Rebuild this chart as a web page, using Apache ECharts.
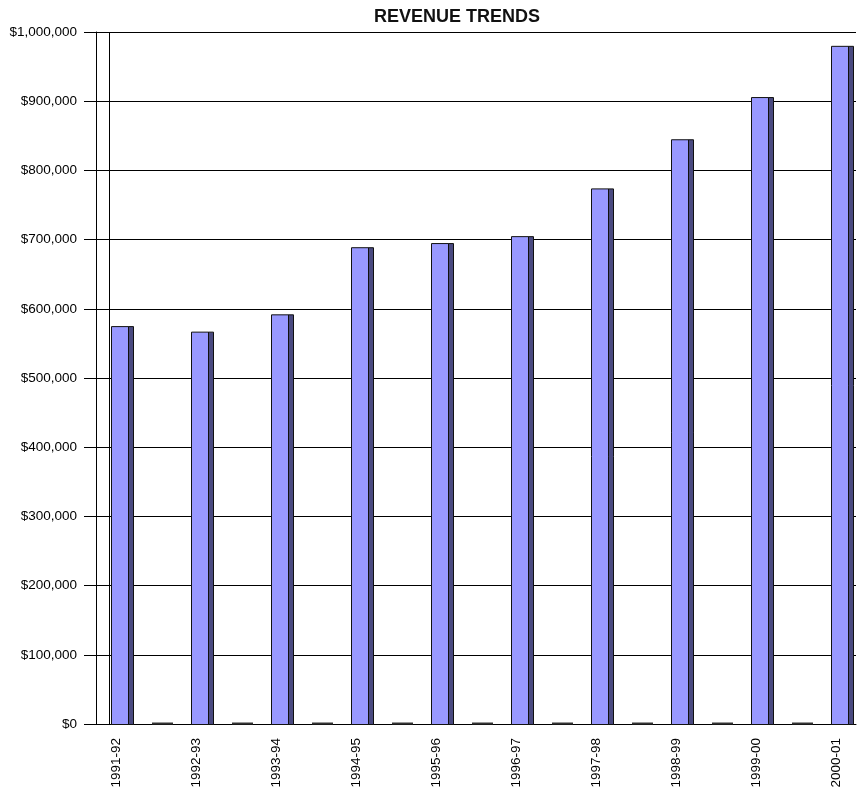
<!DOCTYPE html>
<html>
<head>
<meta charset="utf-8">
<script src="https://cdn.jsdelivr.net/npm/echarts@6/dist/echarts.min.js"></script>
<style>
  html, body { margin: 0; padding: 0; background: #fff; }
  #revenueChart { width: 861px; height: 791px; }
</style>
</head>
<body>
<div id="revenueChart"></div>
<script>
// fiscal years and revenue
var years = ["1991-92", "1992-93", "1993-94", "1994-95", "1995-96",
             "1996-97", "1997-98", "1998-99", "1999-00", "2000-01"];
var revenue = [575000, 567000, 592000, 689000, 695000,
               705000, 774000, 845000, 906000, 980000];
// empty slot between each year (shows as a flat zero bar)
var gapValue = 0;

var categories = [];
var values = [];
years.forEach(function (y, i) {
  categories.push(y);
  values.push([categories.length - 1, revenue[i]]);
  if (i < years.length - 1) {
    categories.push(y + " ");
    values.push([categories.length - 1, gapValue]);
  }
});

function renderBar(params, api) {
  var idx = api.value(0);
  var val = api.value(1);
  var top = api.coord([idx, val]);
  var base = api.coord([idx, 0]);
  var cx = top[0];
  var children = [];
  if (params.dataIndex === 0) {
    // back wall edge of the 3D plot
    var cs = params.coordSys;
    children.push({
      type: "line",
      shape: { x1: cs.x + 13.5, y1: cs.y, x2: cs.x + 13.5, y2: cs.y + cs.height },
      style: { stroke: "#000", lineWidth: 1 }
    });
  }
  if (val === 0) {
    children.push({
      type: "rect",
      shape: { x: cx - 4, y: base[1] - 1.5, width: 21, height: 2 },
      style: { fill: "#333", stroke: null }
    });
  } else {
    children.push({
      type: "rect",
      shape: { x: cx - 4.5, y: top[1] + 0.5, width: 17, height: base[1] - top[1] },
      style: { fill: "#9999ff", stroke: "#111", lineWidth: 1 }
    });
    children.push({
      type: "rect",
      shape: { x: cx + 12.5, y: top[1] + 0.5, width: 5, height: base[1] - top[1] },
      style: { fill: "#4a4a80", stroke: "#111", lineWidth: 1 }
    });
  }
  return { type: "group", children: children };
}

var revenueChart = echarts.init(document.getElementById("revenueChart"));

var option = {
  animation: false,
  title: {
    text: "REVENUE TRENDS",
    left: 374,
    top: 8,
    padding: 0,
    textStyle: {
      fontFamily: "Liberation Sans",
      fontWeight: "bold",
      fontSize: 18,
      color: "#111"
    }
  },
  grid: { left: 96, right: 5, top: 32, bottom: 67 },
  xAxis: {
    type: "category",
    data: categories,
    boundaryGap: true,
    axisLine: { lineStyle: { color: "#000", width: 1 } },
    axisTick: { interval: 0, length: 11, lineStyle: { color: "#000" } },
    axisLabel: {
      interval: 1,
      rotate: 90,
      margin: 14,
      fontFamily: "Liberation Sans",
      fontSize: 13.5,
      color: "#000"
    },
    splitLine: { show: false }
  },
  yAxis: {
    type: "value",
    min: 0,
    max: 1000000,
    interval: 100000,
    axisLine: { show: true, lineStyle: { color: "#000", width: 1 } },
    axisTick: { show: true, length: 12, lineStyle: { color: "#000" } },
    axisLabel: {
      margin: 19,
      fontFamily: "Liberation Sans",
      fontSize: 13.5,
      color: "#000",
      formatter: function (v) {
        return "$" + v.toLocaleString("en-US");
      }
    },
    splitLine: { show: true, lineStyle: { color: "#000", width: 1 } }
  },
  series: [
    {
      type: "custom",
      renderItem: renderBar,
      data: values,
      encode: { x: 0, y: 1 }
    }
  ]
};

revenueChart.setOption(option);
</script>
</body>
</html>
